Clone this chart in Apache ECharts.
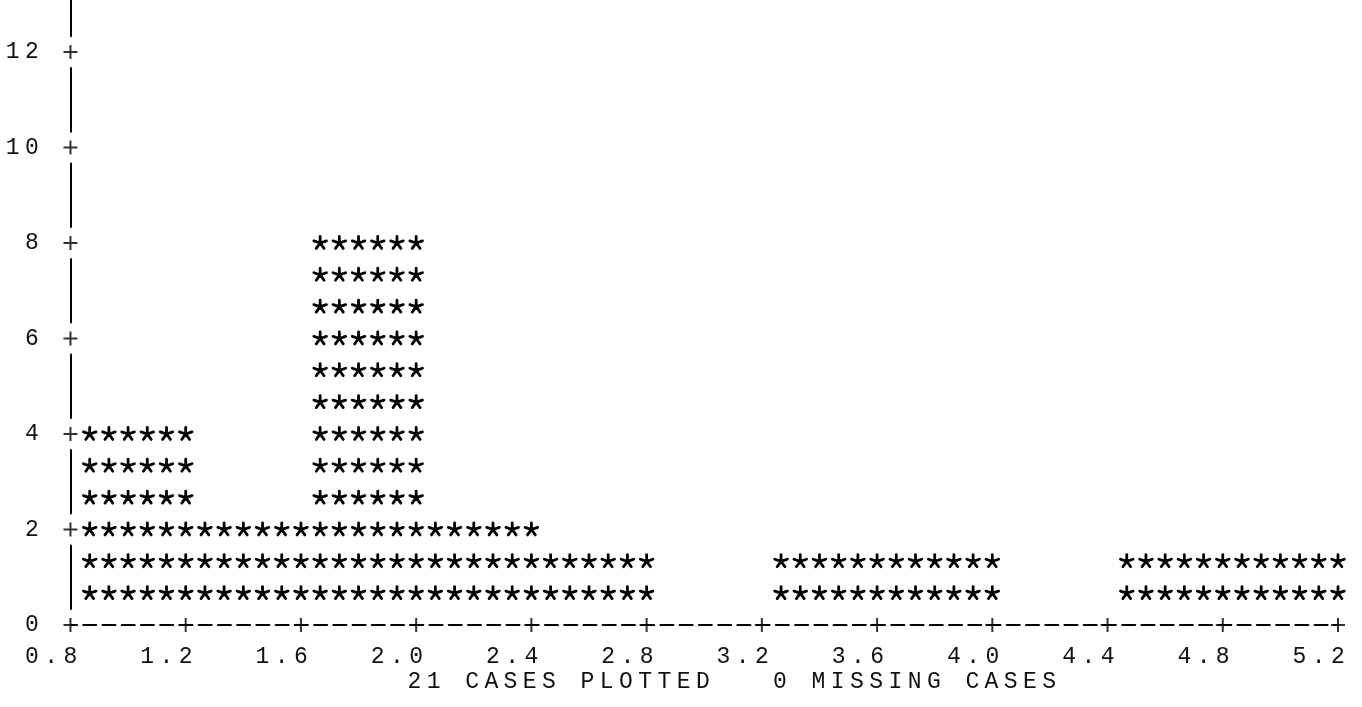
<!DOCTYPE html>
<html><head><meta charset="utf-8">
<script src="https://cdn.jsdelivr.net/npm/echarts@6/dist/echarts.min.js"></script>
<style>html,body{margin:0;padding:0;background:#fff}#c{width:1362px;height:707px}</style>
</head><body><div id="c"></div>
<script>
// ---- data ----
const xTickValues = [0.8, 1.2, 1.6, 2.0, 2.4, 2.8, 3.2, 3.6, 4.0, 4.4, 4.8, 5.2];
const xTickLabels = ['0.8', '1.2', '1.6', '2.0', '2.4', '2.8', '3.2', '3.6', '4.0', '4.4', '4.8', '5.2'];
const counts = [4, 2, 8, 2, 1, 0, 1, 1, 0, 1, 1];   // cases per bin (sum 21)
const yTickValues = [0, 2, 4, 6, 8, 10, 12];
const yTickLabels = ['0', '2', '4', '6', '8', '10', '12'];
const caption = '21 CASES PLOTTED   0 MISSING CASES';

// ---- character-plot settings ----
const CHARS_PER_BIN = 6;
const ROWS_PER_UNIT = 1.5;
const CELL = 19.24;
const FONT = 'Liberation Mono';
const STAR = 'M0,0L0,-6.6M0,0L6.3,-2.1M0,0L-6.3,-2.1M0,0L3.9,5.4M0,0L-3.9,5.4';

function mono(s) {
  return s.split('').map(ch => '{c|' + ch + '}').join('');
}
const richC = { c: { width: CELL, align: 'center', fontFamily: FONT, fontSize: 23, fontWeight: 'normal', color: '#111', lineHeight: 24 } };

const bins = counts.map((c, i) => [xTickValues[i], xTickValues[i + 1], c]);
const plusPoints = xTickValues.map(v => [v, 0]).concat(yTickValues.slice(1).map(v => [xTickValues[0], v]));

const chart = echarts.init(document.getElementById('c'), null, { renderer: 'canvas' });
chart.setOption({
  animation: false,
  backgroundColor: '#fff',
  title: {
    text: mono(caption),
    left: 404.7, top: 670, padding: 0,
    textStyle: { fontWeight: 'normal', rich: richC }
  },
  grid: { left: 68, right: 24, top: 0, bottom: 82 },
  xAxis: {
    type: 'value', min: 0.8, max: 5.2, interval: 0.4,
    axisLine: { show: true, lineStyle: { color: '#000', width: 2, type: [13, 6.24], dashOffset: 6.5 } },
    axisTick: { show: false },
    splitLine: { show: false },
    axisLabel: {
      margin: 20, padding: [0, 2 * CELL, 0, 0],
      formatter: (v, i) => mono(xTickLabels[i] || ''),
      rich: richC
    }
  },
  yAxis: {
    type: 'value', min: 0, max: 13.089, interval: 2,
    axisLine: { show: true, lineStyle: { color: '#000', width: 2, type: [63.66, 31.83], dashOffset: 79.57 } },
    axisTick: { show: false },
    splitLine: { show: false },
    axisLabel: {
      margin: 29, showMaxLabel: false,
      formatter: (v, i) => mono(yTickLabels[i] || ''),
      rich: richC
    }
  },
  series: [
    {
      type: 'custom',
      data: bins,
      encode: { x: [0, 1], y: 2 },
      renderItem: function (params, api) {
        const x0 = api.value(0), x1 = api.value(1), c = api.value(2);
        const nRows = Math.round(c * ROWS_PER_UNIT);
        const children = [];
        for (let k = 1; k <= nRows; k++) {
          for (let j = 1; j <= CHARS_PER_BIN; j++) {
            const p = api.coord([x0 + (x1 - x0) * j / CHARS_PER_BIN, k / ROWS_PER_UNIT]);
            children.push({
              type: 'path', x: p[0], y: p[1],
              shape: { pathData: STAR },
              style: { fill: 'none', stroke: '#000', lineWidth: 2.8, lineCap: 'round' }
            });
          }
        }
        return { type: 'group', children: children };
      }
    },
    {
      type: 'scatter',
      data: plusPoints,
      symbol: 'path://M6,0h2v6h6v2h-6v6h-2v-6h-6v-2h6z',
      symbolSize: 14,
      itemStyle: { color: '#000' },
      z: 5
    }
  ]
});
</script></body></html>
